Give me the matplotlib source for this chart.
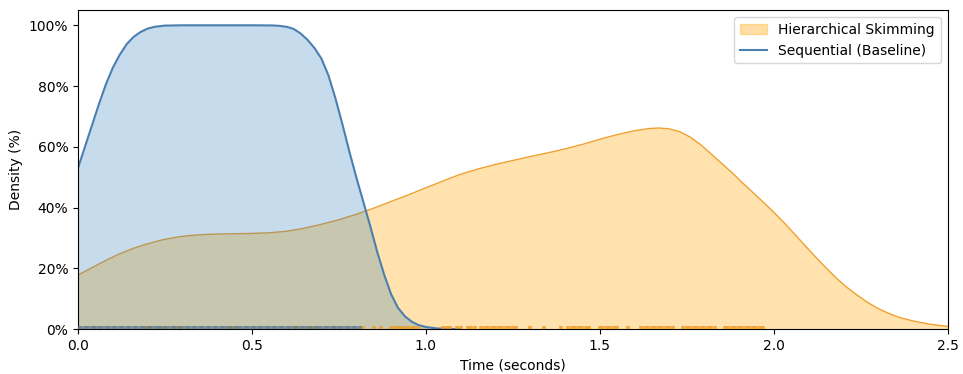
import matplotlib
matplotlib.use("Agg")
import matplotlib.pyplot as plt
from matplotlib.patches import Patch
from matplotlib.lines import Line2D
from matplotlib.ticker import FuncFormatter

# Sequential (Baseline) density curve (% of peak)
seq_x = [0.00, 0.02, 0.04, 0.06, 0.08, 0.10, 0.12, 0.14, 0.16, 0.18, 0.20, 0.22, 0.25, 0.30,
         0.40, 0.50, 0.56, 0.58, 0.60, 0.62, 0.64, 0.66, 0.68, 0.70, 0.72, 0.74, 0.76, 0.78,
         0.80, 0.82, 0.84, 0.86, 0.88, 0.90, 0.92, 0.94, 0.96, 0.98, 1.00, 1.03, 1.06, 1.10]
seq_y = [53.0, 60.0, 67.0, 74.0, 80.5, 86.0, 90.3, 93.8, 96.2, 97.8, 98.9, 99.5, 99.9, 100.0,
         100.0, 100.0, 99.95, 99.8, 99.5, 98.8, 97.3, 95.2, 92.5, 89.0, 83.5, 76.0, 67.5, 58.5,
         50.0, 42.0, 34.0, 25.5, 18.0, 11.5, 7.0, 4.2, 2.4, 1.3, 0.7, 0.25, 0.08, 0.0]

# Hierarchical Skimming density curve (% of peak)
hier_x = [0.00, 0.04, 0.08, 0.12, 0.16, 0.20, 0.24, 0.28, 0.32, 0.36, 0.40, 0.45, 0.50, 0.55,
          0.60, 0.65, 0.70, 0.75, 0.80, 0.85, 0.90, 0.95, 1.00, 1.05, 1.10, 1.15, 1.20, 1.25,
          1.30, 1.35, 1.40, 1.45, 1.50, 1.55, 1.60, 1.64, 1.67, 1.70, 1.73, 1.76, 1.79, 1.82,
          1.85, 1.88, 1.91, 1.94, 1.97, 2.00, 2.03, 2.06, 2.09, 2.12, 2.15, 2.18, 2.21, 2.24,
          2.27, 2.30, 2.33, 2.36, 2.40, 2.45, 2.50]
hier_y = [17.8, 20.2, 22.6, 24.8, 26.6, 28.1, 29.3, 30.2, 30.8, 31.1, 31.3, 31.4, 31.5, 31.7,
          32.2, 33.2, 34.5, 36.0, 37.8, 39.8, 42.0, 44.2, 46.5, 48.8, 51.0, 52.7, 54.2, 55.5,
          56.8, 58.0, 59.3, 60.8, 62.5, 64.0, 65.3, 66.0, 66.2, 65.9, 65.0, 63.2, 60.7, 57.7,
          54.6, 51.5, 48.2, 45.0, 41.8, 38.5, 35.0, 31.3, 27.5, 23.8, 20.2, 16.8, 13.8, 11.2,
          8.8, 6.8, 5.2, 3.9, 2.7, 1.6, 0.9]

# Rug samples (seconds)
seq_rug = [0.00, 0.01, 0.02, 0.03, 0.04, 0.05, 0.06, 0.07, 0.08, 0.09, 0.10, 0.11, 0.12, 0.13,
           0.14, 0.15, 0.16, 0.17, 0.18, 0.19, 0.20, 0.21, 0.22, 0.23, 0.24, 0.25, 0.26, 0.27,
           0.28, 0.29, 0.30, 0.31, 0.32, 0.33, 0.34, 0.35, 0.36, 0.37, 0.38, 0.39, 0.40, 0.41,
           0.42, 0.43, 0.44, 0.45, 0.46, 0.47, 0.48, 0.49, 0.50, 0.51, 0.52, 0.53, 0.54, 0.55,
           0.56, 0.57, 0.58, 0.59, 0.60, 0.61, 0.62, 0.63, 0.64, 0.65, 0.66, 0.67, 0.68, 0.69,
           0.70, 0.71, 0.72, 0.73, 0.74, 0.75, 0.76, 0.77, 0.78, 0.79, 0.80, 0.81]
hier_rug = [0.05, 0.19, 0.20, 0.21, 0.24, 0.25, 0.28, 0.29, 0.30, 0.43, 0.44, 0.45, 0.62, 0.63,
            0.66, 0.67, 0.68, 0.74, 0.82, 0.85, 0.87, 0.90, 0.91, 0.92, 0.93, 0.94, 0.95, 0.96,
            0.97, 0.98, 1.05, 1.06, 1.07, 1.09, 1.10, 1.12, 1.13, 1.14, 1.16, 1.17, 1.18, 1.19,
            1.20, 1.21, 1.22, 1.23, 1.24, 1.25, 1.26, 1.30, 1.34, 1.39, 1.41, 1.42, 1.43, 1.44,
            1.45, 1.46, 1.47, 1.50, 1.51, 1.52, 1.53, 1.54, 1.55, 1.58, 1.62, 1.63, 1.64, 1.65,
            1.66, 1.67, 1.68, 1.69, 1.70, 1.71, 1.74, 1.75, 1.76, 1.77, 1.78, 1.79, 1.80, 1.81,
            1.82, 1.83, 1.86, 1.87, 1.88, 1.89, 1.90, 1.91, 1.92, 1.93, 1.94, 1.95, 1.96, 1.97]

x_ticks = [0.0, 0.5, 1.0, 1.5, 2.0, 2.5]
y_ticks = [0, 20, 40, 60, 80, 100]

blue = "#1f77b4"
blue_line = "#4a7fb0"
orange = "#ffa500"
orange_line = "#f0a030"

fig = plt.figure(figsize=(9.63, 3.74), dpi=100)
ax = fig.add_axes([0.081, 0.12, 0.903, 0.853])

# Hierarchical first (below), then Sequential on top
ax.fill_between(hier_x, 0, hier_y, color=orange, alpha=0.32, linewidth=0, zorder=1)
ax.plot(hier_x, hier_y, color=orange_line, linewidth=1.0, zorder=1.5)
ax.fill_between(seq_x, 0, seq_y, color=blue, alpha=0.25, linewidth=0, zorder=2)
ax.plot(seq_x, seq_y, color=blue_line, linewidth=1.5, zorder=2.5)

# rug marks (sequential drawn over hierarchical)
ax.vlines(hier_rug, 0, 1.0, color="#f09a20", alpha=0.8, linewidth=2.6, zorder=3)
ax.vlines(seq_rug, 0, 1.0, color="#5a7890", alpha=0.8, linewidth=2.6, zorder=3.2)

ax.set_xlim(0, 2.5)
ax.set_ylim(0, 105)
ax.set_xticks(x_ticks)
ax.set_yticks(y_ticks)
ax.yaxis.set_major_formatter(FuncFormatter(lambda v, p: f"{int(v)}%"))
ax.set_xlabel("Time (seconds)", fontsize=10)
ax.set_ylabel("Density (%)", fontsize=10)
ax.tick_params(labelsize=10)

handles = [Patch(facecolor=orange, alpha=0.35, edgecolor=orange, label="Hierarchical Skimming"),
           Line2D([0], [0], color=blue_line, linewidth=1.5, label="Sequential (Baseline)")]
ax.legend(handles=handles, loc="upper right", fontsize=10)

fig.savefig("out.png", dpi=100)
